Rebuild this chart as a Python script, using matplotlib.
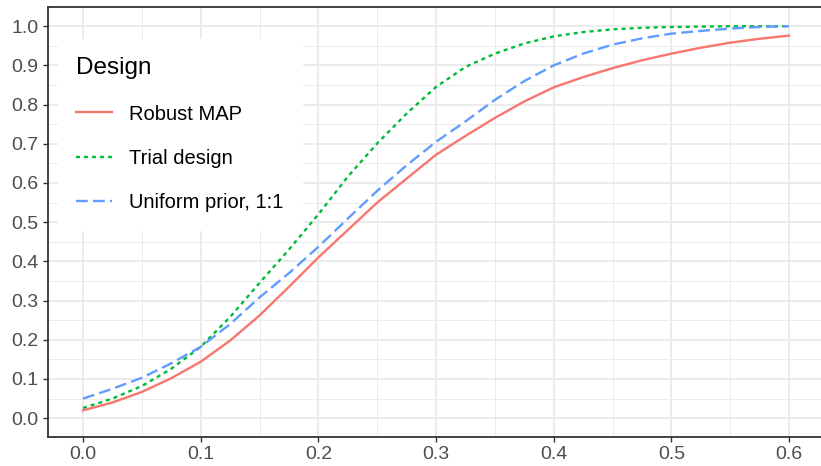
import matplotlib.pyplot as plt
import matplotlib.ticker as mticker

plt.rcParams['font.family'] = ['Liberation Sans', 'DejaVu Sans']

# Power curves
x = [0.0, 0.025, 0.05, 0.075, 0.1, 0.125, 0.15, 0.175, 0.2, 0.225, 0.25, 0.275,
     0.3, 0.325, 0.35, 0.375, 0.4, 0.425, 0.45, 0.475, 0.5, 0.525, 0.55, 0.575, 0.6]
robust_map = [0.020, 0.040, 0.067, 0.102, 0.144, 0.198, 0.262, 0.335, 0.410, 0.480,
              0.550, 0.611, 0.672, 0.720, 0.766, 0.808, 0.844, 0.870, 0.893, 0.913,
              0.930, 0.945, 0.958, 0.968, 0.976]
trial_design = [0.026, 0.050, 0.082, 0.126, 0.182, 0.258, 0.345, 0.430, 0.520, 0.616,
                0.701, 0.777, 0.845, 0.896, 0.930, 0.956, 0.974, 0.985, 0.992, 0.996,
                0.998, 0.999, 1.000, 1.000, 1.000]
uniform_prior = [0.050, 0.075, 0.103, 0.140, 0.182, 0.240, 0.308, 0.370, 0.437, 0.509,
                 0.580, 0.645, 0.705, 0.757, 0.812, 0.860, 0.900, 0.930, 0.953, 0.969,
                 0.981, 0.988, 0.994, 0.998, 1.000]

labels = ['Robust MAP', 'Trial design', 'Uniform prior, 1:1']
colors = ['#F8766D', '#00BA38', '#619CFF']

W, H = 821, 466
fig = plt.figure(figsize=(W / 100, H / 100), dpi=100)
# panel in pixels (right edge runs slightly past the image)
left, right, top, bottom = 47.7, 824.3, 7, 437
ax = fig.add_axes([left / W, 1 - bottom / H, (right - left) / W, (bottom - top) / H])

lw = 1.7
ax.plot(x, robust_map, color=colors[0], lw=lw, label=labels[0])
ax.plot(x, trial_design, color=colors[1], lw=lw, dashes=(1.7, 1.7), label=labels[1])
ax.plot(x, uniform_prior, color=colors[2], lw=lw, dashes=(5, 2.2), label=labels[2])

ax.set_xlim(-0.03, 0.63)
ax.set_ylim(-0.048, 1.049)
ax.xaxis.set_major_locator(mticker.MultipleLocator(0.1))
ax.xaxis.set_minor_locator(mticker.MultipleLocator(0.05))
ax.yaxis.set_major_locator(mticker.MultipleLocator(0.1))
ax.yaxis.set_minor_locator(mticker.MultipleLocator(0.05))
ax.xaxis.set_major_formatter(mticker.FormatStrFormatter('%.1f'))
ax.yaxis.set_major_formatter(mticker.FormatStrFormatter('%.1f'))

ax.grid(which='major', color='#EBEBEB', lw=1.4)
ax.grid(which='minor', color='#EBEBEB', lw=0.7)
ax.set_axisbelow(True)
for s in ax.spines.values():
    s.set_color('#333333')
    s.set_linewidth(1.3)
ax.tick_params(which='major', length=3.5, width=1.0, color='#333333',
               labelsize=14, labelcolor='#4D4D4D', pad=3)
ax.tick_params(which='minor', length=0)

leg = ax.legend(loc='upper left', bbox_to_anchor=(0.013, 0.925), title='Design',
                fontsize=14.5, title_fontsize=17.5, frameon=True, fancybox=False,
                edgecolor='white', facecolor='white', framealpha=1,
                handlelength=1.8, handletextpad=0.85, labelspacing=1.25,
                borderpad=0.9, borderaxespad=0)
leg._legend_box.align = 'left'

fig.savefig('out.png', dpi=100)
